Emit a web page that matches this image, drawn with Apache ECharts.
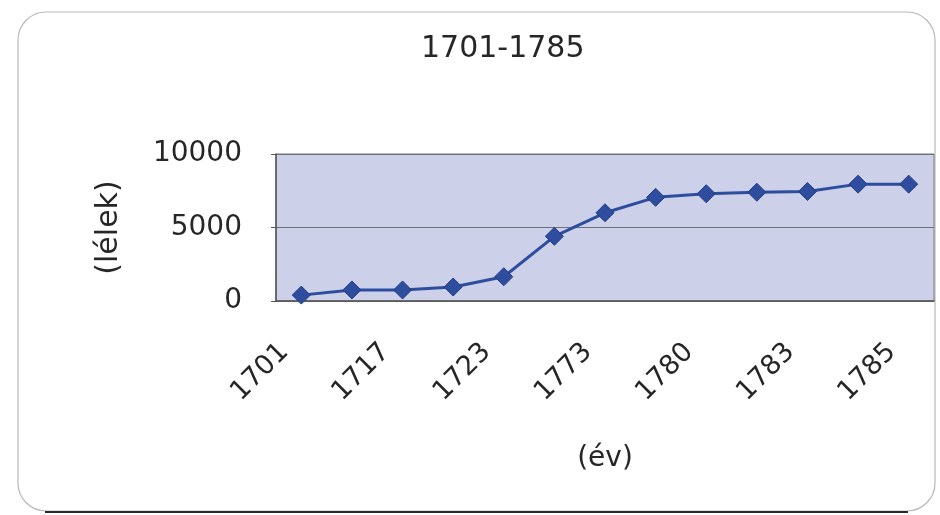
<!DOCTYPE html>
<html>
<head>
<meta charset="utf-8">
<title>1701-1785</title>
<script src="https://cdn.jsdelivr.net/npm/echarts@6/dist/echarts.min.js"></script>
<style>
  html, body { margin: 0; padding: 0; background: #ffffff; }
  #chart { width: 940px; height: 515px; }
</style>
</head>
<body>
<div id="chart"></div>
<script>
// évek (csak minden második felirat látszik)
let years = ['1701', '1715', '1717', '1720', '1723', '1730', '1773', '1777', '1780', '1782', '1783', '1784', '1785'];
// lélekszám
let souls = [400, 750, 750, 950, 1650, 4400, 6000, 7050, 7300, 7400, 7450, 7950, 7950];
let yTicks = [0, 5000, 10000];

let chartDom = document.getElementById('chart');
let myChart = echarts.init(chartDom);

let font = 'DejaVu Sans';

myChart.setOption({
  backgroundColor: '#ffffff',
  animation: false,
  title: {
    text: '1701-1785',
    left: 416,
    top: 29,
    textStyle: {
      color: '#262626',
      fontFamily: font,
      fontWeight: 'normal',
      fontSize: 30
    }
  },
  graphic: [
    {
      type: 'rect',
      shape: { x: 18, y: 12, width: 917, height: 499, r: 28 },
      style: { fill: 'none', stroke: '#b8b8b8', lineWidth: 1.2 },
      z: -1
    },
    {
      type: 'line',
      shape: { x1: 45, y1: 512, x2: 908, y2: 512 },
      style: { stroke: '#2a2a2a', lineWidth: 2 },
      z: -1
    }
  ],
  grid: {
    left: 276,
    right: 6,
    top: 154,
    bottom: 214,
    show: true,
    backgroundColor: '#ccd0e8',
    borderColor: '#7a7a80',
    borderWidth: 1
  },
  xAxis: {
    type: 'category',
    data: years,
    boundaryGap: true,
    name: '(év)',
    nameLocation: 'middle',
    nameGap: 144,
    nameTextStyle: {
      color: '#262626',
      fontFamily: font,
      fontSize: 28
    },
    axisLine: {
      lineStyle: { color: '#555555', width: 1.5 }
    },
    axisTick: {
      interval: 0,
      length: 7,
      lineStyle: { color: '#555555' }
    },
    axisLabel: {
      interval: 1,
      rotate: 45,
      margin: 30,
      padding: [0, 24, 0, 0],
      color: '#262626',
      fontFamily: font,
      fontSize: 27
    }
  },
  yAxis: {
    type: 'value',
    min: yTicks[0],
    max: yTicks[yTicks.length - 1],
    interval: yTicks[1] - yTicks[0],
    name: '(lélek)',
    nameLocation: 'middle',
    nameGap: 152,
    nameTextStyle: {
      color: '#262626',
      fontFamily: font,
      fontSize: 30
    },
    axisLine: {
      show: true,
      lineStyle: { color: '#555555', width: 1.5 }
    },
    axisTick: {
      show: true,
      length: 5,
      lineStyle: { color: '#555555' }
    },
    splitLine: {
      show: true,
      lineStyle: { color: '#6e6e78', width: 1 }
    },
    axisLabel: {
      margin: 34,
      color: '#262626',
      fontFamily: font,
      fontSize: 28,
      formatter: function (value) {
        return String(value);
      }
    }
  },
  series: [
    {
      type: 'line',
      data: souls,
      symbol: 'diamond',
      symbolSize: 18,
      lineStyle: { color: '#2f4d9e', width: 3 },
      itemStyle: {
        color: '#2f4d9e',
        borderColor: '#243c80',
        borderWidth: 1
      }
    }
  ]
});
</script>
</body>
</html>
